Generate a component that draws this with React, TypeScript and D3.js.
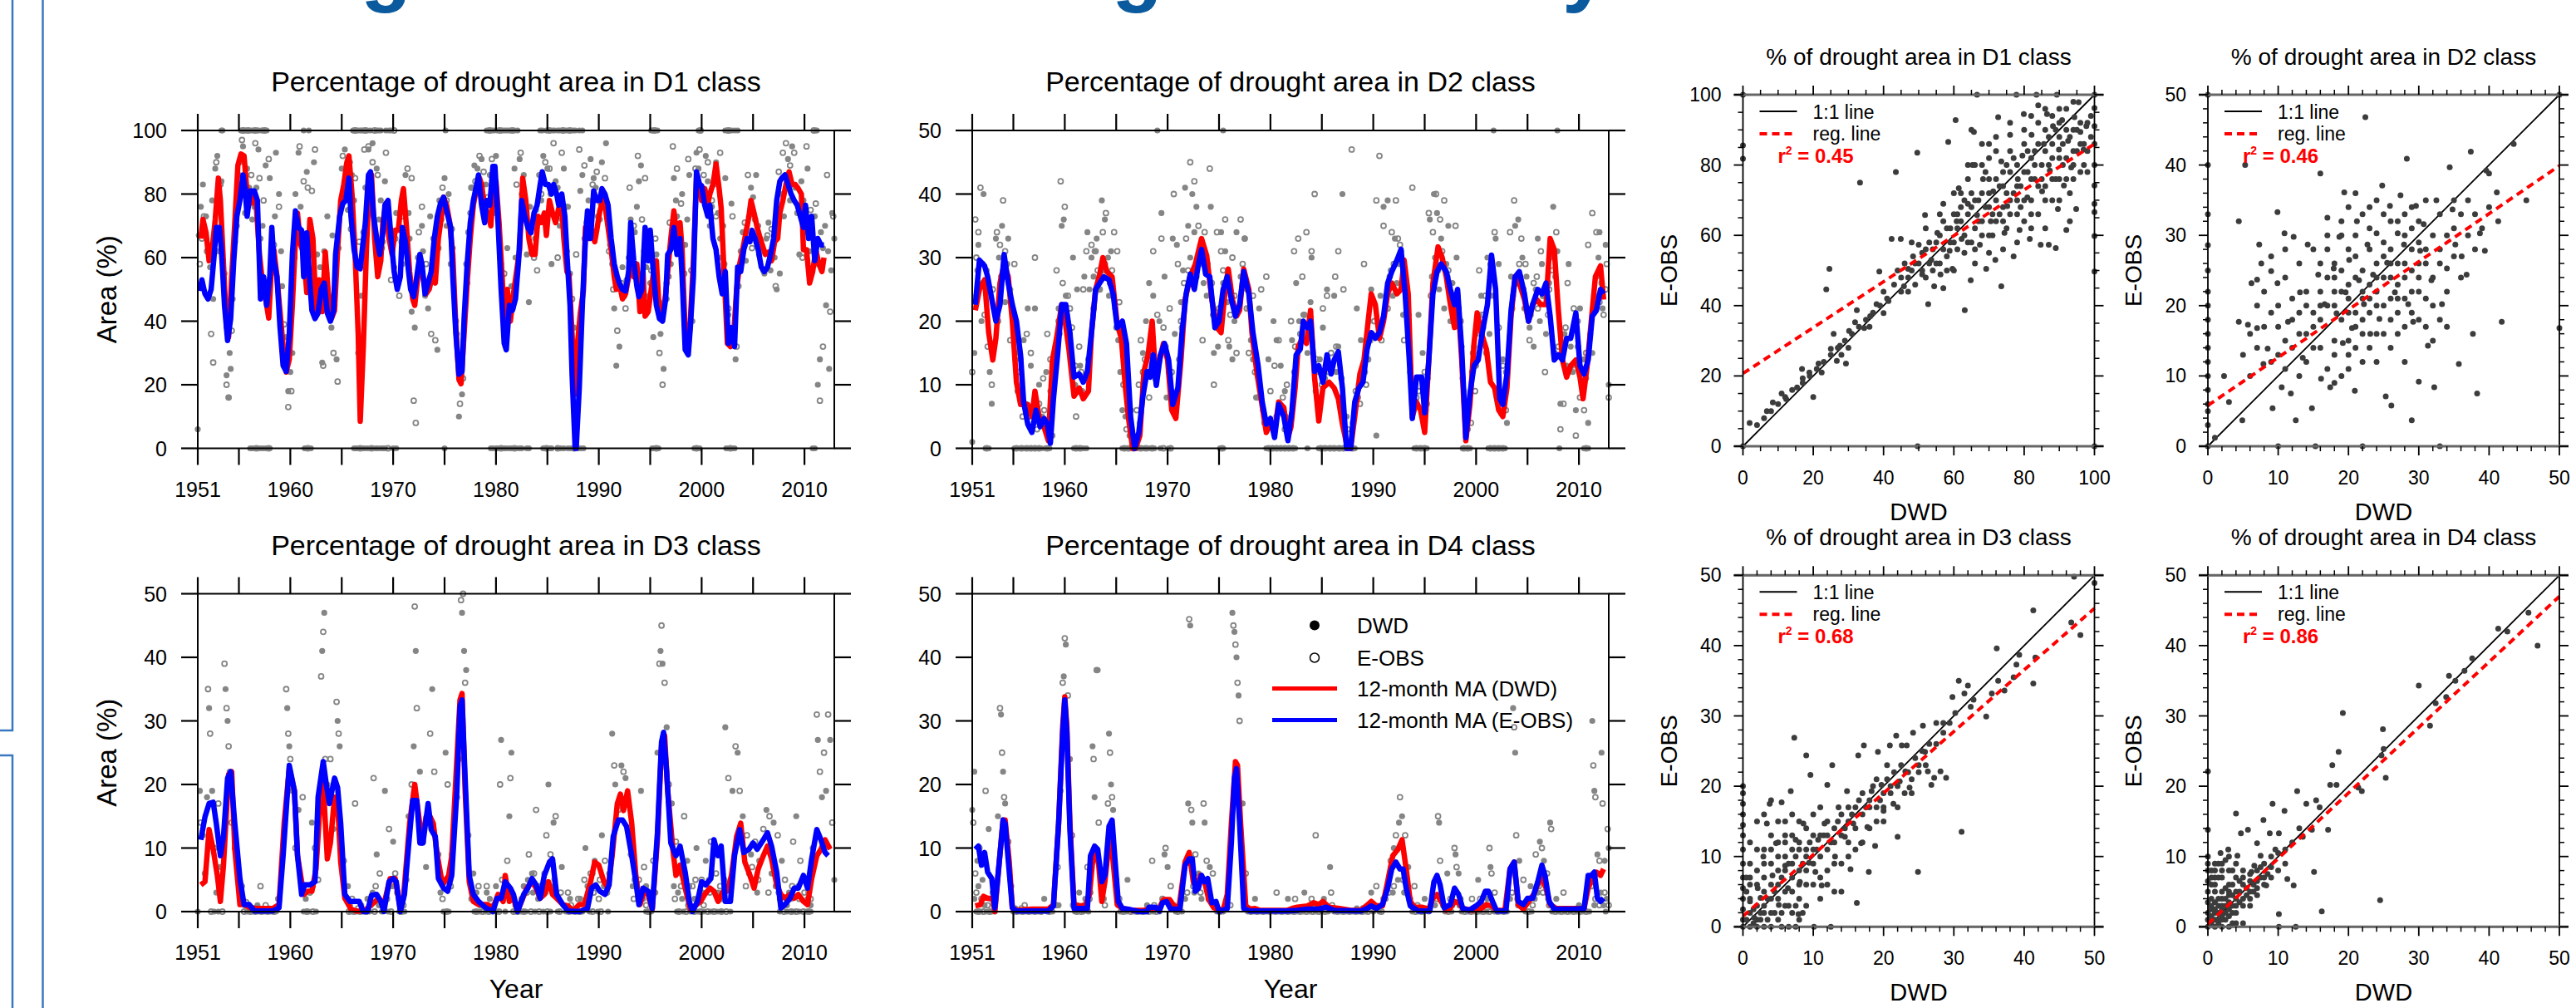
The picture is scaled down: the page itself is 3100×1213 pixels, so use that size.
import React from 'react';
import * as d3 from 'd3';

const FONT = '"Liberation Sans", Arial, Helvetica, sans-serif';
const GRAY = '#858585';
const DOT = '#3c3c3c';

type Pt = [number, number];

// years are stored as offsets from 1900 (51.3 -> 1951.3)
const yearTicks = [1951, 1955, 1960, 1965, 1970, 1975, 1980, 1985, 1990, 1995, 2000, 2005, 2010];
const yearLabels = [1951, 1960, 1970, 1980, 1990, 2000, 2010];
const ticks100 = [0, 20, 40, 60, 80, 100];
const ticks50 = [0, 10, 20, 30, 40, 50];

// ---------- D1 ----------
const d1MaDwd: Pt[] = [[51.3,66],[51.5,72],[51.8,68],[52.1,59],[52.4,62.5],[52.7,72],[53.0,85],[53.2,78],[53.5,58],[53.8,38],[54.0,35],[54.3,54],[54.6,71],[54.9,89],[55.2,92.6],[55.5,92],[55.8,80],[56.1,77],[56.4,79],[56.7,76],[57.0,61],[57.3,52],[57.6,47],[57.9,41],[58.2,59],[58.4,62.5],[58.7,54],[59.0,43],[59.3,32],[59.6,24],[59.9,28],[60.2,45],[60.5,66],[60.7,74],[61.0,64],[61.3,61.5],[61.6,49],[61.9,72],[62.2,66],[62.5,43],[62.8,53],[63.1,43],[63.4,61.7],[63.7,48.6],[64.0,40.8],[64.3,43.4],[64.6,62.5],[64.9,78],[65.2,83],[65.5,90],[65.7,92],[66.0,80],[66.3,61],[66.6,36],[66.8,8.5],[67.1,32],[67.4,62.5],[67.7,85],[67.9,86],[68.2,66],[68.5,54],[68.8,59],[69.0,71],[69.3,77],[69.6,66],[69.9,61],[70.2,68.6],[70.5,68.6],[70.8,78],[71.0,81.7],[71.3,69.5],[71.6,55.6],[71.9,47],[72.1,45],[72.4,54],[72.7,58],[72.9,54],[73.2,48.6],[73.5,50],[73.8,54],[74.1,52],[74.4,66],[74.7,73],[74.9,79],[75.2,76.5],[75.5,71],[75.8,61],[76.1,38],[76.4,21.6],[76.6,20.3],[76.9,36],[77.2,52],[77.5,66],[77.8,76.5],[78.1,81.7],[78.4,85],[78.6,83],[78.9,75.6],[79.2,74],[79.5,70],[79.8,85],[80.0,84],[80.3,71],[80.6,54],[80.8,40.8],[81.1,50],[81.4,40],[81.7,48.6],[82.0,55.6],[82.3,62.5],[82.6,85],[82.9,78],[83.2,66],[83.5,61],[83.8,61],[84.1,73],[84.4,71],[84.7,74],[84.9,67],[85.2,78],[85.5,74],[85.8,71],[86.1,75.6],[86.4,77],[86.6,66],[86.9,55.6],[87.1,54.7],[87.4,36],[87.7,17],[87.9,32],[88.2,42.5],[88.5,49.5],[88.7,69.5],[89.0,66],[89.3,68.6],[89.6,65],[89.8,68.6],[90.1,74.7],[90.4,78],[90.6,76.5],[90.9,69.5],[91.2,62.5],[91.5,54],[91.7,50],[92.0,52],[92.3,47],[92.6,48.6],[92.9,54],[93.1,59],[93.4,54],[93.7,58],[94.0,43],[94.3,55.6],[94.5,41.6],[94.8,43],[95.1,50],[95.4,57],[95.6,59],[95.9,41.6],[96.2,41.6],[96.5,48.6],[96.8,59],[97.0,66],[97.3,74.7],[97.6,66],[97.9,71],[98.1,62.5],[98.4,36],[98.7,31],[98.9,40],[99.2,59],[99.5,85],[99.8,83],[100.0,78],[100.3,81.7],[100.6,77],[100.8,80],[101.1,83],[101.4,89.5],[101.7,81.7],[101.9,75.6],[102.2,54],[102.5,33],[102.8,32],[103.1,34.7],[103.4,50],[103.7,58],[104.0,62.5],[104.3,67.8],[104.6,73],[104.8,78],[105.1,74],[105.4,69.5],[105.7,66],[105.9,64],[106.2,61],[106.5,61.7],[106.8,59],[107.1,65],[107.4,66],[107.6,74],[107.9,78],[108.2,83],[108.5,87],[108.8,83],[109.1,83],[109.4,81.7],[109.7,80],[109.9,62.5],[110.2,62.5],[110.5,52],[110.8,55.6],[111.1,62.5],[111.4,58],[111.7,55.6],[111.9,60]];
const d1MaEobs: Pt[] = [[51.2,49.5],[51.4,53],[51.7,48.6],[52.0,47],[52.3,50],[52.6,61],[52.8,69.5],[53.1,69.5],[53.3,62.5],[53.6,45],[53.9,33.9],[54.2,40.8],[54.5,59],[54.8,73],[55.1,78],[55.4,86],[55.6,81.7],[55.8,73],[56.1,81],[56.5,81],[56.8,78],[57.1,47],[57.4,54],[57.7,45],[58.0,54],[58.2,69.5],[58.4,59],[58.7,54],[59.0,38],[59.3,26],[59.6,24.2],[59.9,36],[60.2,61],[60.5,74.7],[60.8,69.5],[61.1,68.6],[61.3,54],[61.6,67.8],[61.9,52],[62.1,43.4],[62.4,40.8],[62.7,42.5],[63.0,50],[63.3,52],[63.6,42.5],[63.9,40],[64.2,43.4],[64.4,61],[64.8,73],[65.1,77],[65.4,78],[65.7,85],[65.9,73],[66.2,62.5],[66.5,57],[66.8,56.5],[67.0,62.5],[67.3,71],[67.6,86],[67.8,87],[68.1,73],[68.4,66],[68.7,61],[69.0,67.8],[69.2,76.5],[69.5,78],[69.8,66],[70.1,55.6],[70.4,50],[70.7,54],[70.9,69.5],[71.2,65],[71.5,55.6],[71.7,50],[72.0,47.7],[72.3,54],[72.6,61],[72.8,58],[73.1,48.6],[73.4,52],[73.7,55.6],[74.0,66],[74.3,73],[74.6,77],[74.9,79],[75.2,74.7],[75.6,69.5],[75.8,54],[76.1,36],[76.4,23.3],[76.7,24.2],[76.9,40.8],[77.2,58],[77.5,71],[77.8,78],[78.1,82.6],[78.3,86],[78.6,76.5],[78.9,71],[79.1,78],[79.4,76.5],[79.7,88.7],[79.9,88.7],[80.2,71],[80.5,50],[80.8,33],[81.0,31],[81.3,45],[81.6,43.4],[81.9,47],[82.2,59],[82.5,78],[82.8,73],[83.1,69.5],[83.4,67.8],[83.7,74],[84.0,76.5],[84.3,83],[84.5,87],[84.8,83],[85.1,83],[85.4,80],[85.6,83],[85.9,80],[86.1,76.5],[86.4,80],[86.7,73],[86.9,61],[87.2,45],[87.4,23.3],[87.7,0],[87.8,0],[88.1,19],[88.4,45],[88.7,66],[88.9,74.7],[89.2,66],[89.5,81],[89.8,78],[90.1,78],[90.3,81.7],[90.6,80],[90.9,76.5],[91.2,66],[91.5,58],[91.8,54],[92.0,52],[92.3,50],[92.6,49.5],[92.9,55.6],[93.1,71],[93.4,59],[93.7,51],[93.9,47.7],[94.2,50],[94.5,69.5],[94.8,59],[95.0,68.6],[95.3,55.6],[95.6,45],[95.9,40.8],[96.2,40],[96.5,47],[96.7,61],[97.0,62.5],[97.3,69.5],[97.6,61],[97.9,66],[98.1,54],[98.4,31],[98.7,29.4],[98.9,38],[99.2,54],[99.5,87],[99.8,83],[100.0,82.6],[100.3,76.5],[100.6,73],[100.8,76.5],[101.1,66],[101.4,62.5],[101.7,54],[102.0,48.6],[102.3,55.6],[102.6,33],[102.9,38],[103.2,32],[103.5,57],[103.8,55.6],[104.1,62.5],[104.4,66],[104.7,65],[104.9,68.6],[105.2,66],[105.5,62.5],[105.8,57],[106.1,55.6],[106.4,57],[106.7,61],[107.0,66],[107.3,78],[107.6,84],[107.8,85],[108.1,86],[108.4,83],[108.7,80],[109.0,78],[109.3,76.5],[109.6,73],[109.9,69.5],[110.1,76.5],[110.4,66],[110.7,73],[111.0,59],[111.3,66],[111.6,64],[111.9,64]];
const d1Dwd: Pt[] = [[53.4,100],[55.2,100],[55.6,100],[56,100],[56.4,100],[56.8,100],[57.2,100],[57.7,100],[61.3,100],[61.8,100],[66.1,100],[66.5,100],[67,100],[67.8,100],[68.6,100],[69.3,100],[69.8,100],[75.1,100],[79.1,100],[79.6,100],[80.1,100],[80.6,100],[81.2,100],[82.1,100],[84.3,100],[84.9,100],[85.5,100],[86.2,100],[86.8,100],[87.5,100],[88.4,100],[95.2,100],[95.7,100],[99.7,100],[102.3,100],[102.9,100],[103.5,100],[111.1,100],
  [53.3,100],[55.3,100],[55.5,100],[55.7,100],[56.2,100],[56.5,100],[56.9,100],[57.3,100],[57.5,100],[66.2,100],[66.4,100],[66.7,100],[66.9,100],[67.2,100],[67.5,100],[68.4,100],[68.8,100],[69.6,100],[79.3,100],[79.8,100],[80.3,100],[80.8,100],[81.0,100],[81.4,100],[81.8,100],[84.5,100],[85.0,100],[85.7,100],[86.0,100],[86.6,100],[87.0,100],[87.7,100],[88.1,100],[95.1,100],[95.5,100],[99.8,100],[102.5,100],[102.7,100],[103.2,100],[111.2,100],
  [56.1,0],[57.3,0],[57.6,0],[58,0],[61.4,0],[62,0],[66.4,0],[67,0],[67.5,0],[68.3,0],[69,0],[70.3,0],[75,0],[79.5,0],[80.2,0],[80.8,0],[81.5,0],[82.3,0],[83.2,0],[84.6,0],[85.4,0],[86.3,0],[87.3,0],[87.9,0],[88.5,0],[95.3,0],[95.8,0],[99.3,0],[99.8,0],[102.4,0],[103,0],[110.8,0],
  [56.3,0],[56.6,0],[57.0,0],[57.8,0],[61.6,0],[66.2,0],[66.6,0],[67.2,0],[67.8,0],[68.0,0],[68.5,0],[68.8,0],[69.2,0],[70.0,0],[79.7,0],[80.0,0],[80.4,0],[81.0,0],[81.3,0],[82.0,0],[82.5,0],[83.0,0],[84.8,0],[85.2,0],[86.1,0],[86.6,0],[87.0,0],[87.4,0],[88.0,0],[88.2,0],[95.2,0],[95.5,0],[99.4,0],[99.6,0],[102.6,0],[102.9,0],[103.2,0],[111.0,0],
  [51.0,6],[51.1,67],[51.3,76],[51.5,83],[51.8,73],[52.2,57],[52.5,47],[52.7,88],[52.9,92],[53.1,75],[53.3,84],[53.6,55],[53.8,23],[54.0,16],[54.1,30],[54.2,25],[54.4,47],[54.8,70],[55.1,90],[55.4,95],[55.6,74],[56.0,82],[56.3,72],[56.7,82],[56.9,94],[57.3,70],[57.6,89],[58.0,85],[58.3,57],[58.6,93],[58.9,80],[59.2,51],[59.6,35],[59.8,18],[60.0,24],[60.2,30],[60.5,80],[60.8,93],[61.1,67],[61.6,87],[61.9,56],[62.3,90],[62.6,61],[62.9,57],[63.1,27],[63.3,62],[63.6,73],[64.1,67],[64.3,45],[64.5,28],[64.7,63],[65.0,88],[65.3,94],[65.6,75],[66.0,86],[66.6,30],[66.9,48],[67.3,82],[67.6,94],[68.0,96],[68.4,88],[68.8,78],[69.0,65],[69.4,76],[69.7,69],[70.1,57],[70.5,52],[70.8,65],[71.2,86],[71.5,74],[71.8,43],[72.1,38],[72.4,60],[72.8,70],[73.1,48],[73.6,73],[74.0,57],[74.3,31],[74.7,72],[75.0,85],[75.4,80],[75.8,63],[76.2,36],[76.4,10],[76.7,17],[77.1,58],[77.5,74],[77.9,89],[78.2,88],[78.6,91],[79.0,83],[79.3,73],[79.8,74],[80.3,67],[80.7,47],[81.1,63],[81.5,51],[81.8,88],[82.3,91],[82.5,80],[83.0,61],[83.2,46],[83.5,71],[83.9,75],[84.2,86],[84.6,92],[85.0,88],[85.4,58],[85.8,84],[86.2,70],[86.6,88],[87.0,76],[87.2,55],[87.6,38],[88.2,81],[88.4,86],[88.8,71],[89.2,91],[89.5,85],[89.9,73],[90.3,90],[90.7,96],[91.1,64],[91.5,44],[91.7,26],[92.0,32],[92.3,57],[92.7,53],[93.1,72],[93.5,68],[93.9,84],[94.1,89],[94.6,57],[94.9,48],[95.3,35],[95.6,61],[96.0,36],[96.3,25],[96.6,47],[97.0,58],[97.3,85],[97.6,73],[98.1,80],[98.4,64],[98.8,86],[99.1,40],[99.5,93],[99.9,81],[100.4,92],[100.8,70],[101.2,83],[101.6,74],[101.9,60],[102.3,85],[102.6,42],[102.9,77],[103.3,28],[103.6,51],[104.0,68],[104.3,59],[104.6,73],[105.0,79],[105.3,86],[105.7,66],[106.1,55],[106.5,71],[106.8,62],[107.3,50],[107.6,55],[108.0,73],[108.4,91],[108.8,95],[109.1,82],[109.5,61],[109.9,78],[110.3,88],[110.7,56],[111.0,73],[111.3,20],[111.5,28],[111.8,63],[112.1,45],[112.4,25],[112.7,74],[112.9,66],
  [51.6,70],[52.0,64],[52.4,78],[53.0,62],[55.0,86],[55.8,88],[56.5,76],[57.1,66],[57.9,52],[58.5,73],[59.1,62],[60.6,70],[61.0,76],[61.4,58],[62.0,68],[62.7,46],[63.4,54],[63.8,48],[64.0,38],[65.1,80],[65.8,90],[66.2,78],[67.1,68],[67.9,80],[68.6,72],[69.2,84],[69.9,62],[70.3,74],[70.9,58],[71.6,66],[72.3,52],[72.9,62],[73.4,44],[73.9,66],[74.5,78],[75.2,70],[75.6,58],[77.3,68],[77.7,82],[78.4,80],[78.9,76],[79.4,86],[80.0,92],[80.5,58],[81.3,42],[81.9,60],[82.7,86],[83.3,76],[83.8,66],[84.4,78],[84.9,70],[85.3,80],[86.0,82],[86.4,72],[86.9,62],[88.6,66],[89.0,78],[89.7,82],[90.1,72],[90.5,80],[91.3,58],[92.5,48],[92.9,60],[93.3,62],[93.7,76],[94.4,62],[95.0,52],[95.9,46],[96.8,54],[97.5,78],[97.9,68],[98.6,72],[99.7,88],[100.2,80],[100.6,84],[101.0,76],[101.4,90],[101.8,66],[102.1,70],[103.8,62],[104.2,64],[104.8,82],[105.5,70],[105.9,62],[106.3,66],[106.7,56],[107.1,60],[107.8,80],[108.2,86],[108.6,78],[109.3,74],[109.7,84],[110.1,68],[110.5,62],[111.2,58],[111.6,68],[112.0,70],[112.3,62],[112.6,56]];
const d1Eobs: Pt[] = [[55.4,100],[55.9,100],[56.6,100],[57.5,100],[66.3,100],[67.3,100],[68.2,100],[70.1,100],[79.4,100],[80.4,100],[81.6,100],[85.2,100],[86.5,100],[87.2,100],[95.4,100],[99.9,100],[102.6,100],[110.9,100],
  [56.7,0],[57.9,0],[61.7,0],[66.8,0],[67.9,0],[69.5,0],[80.5,0],[81.8,0],[84.9,0],[86,0],[87.6,0],[95.6,0],[99.5,0],[102.8,0],
  [51.2,58],[51.4,66],[51.6,73],[51.9,62],[52.3,36],[52.5,27],[52.8,90],[53.2,83],[53.5,54],[53.8,20],[54.0,16],[54.3,37],[54.6,65],[55.0,81],[55.3,97],[55.8,77],[56.2,86],[56.6,96],[57.0,85],[57.4,78],[57.9,91],[58.4,64],[58.9,76],[59.4,39],[59.8,13],[60.1,18],[60.4,60],[60.9,95],[61.3,84],[61.7,82],[62.1,81],[62.4,94],[62.8,50],[63.2,26],[63.5,55],[63.9,43],[64.2,30],[64.6,21],[65.1,92],[65.5,89],[65.9,69],[66.3,85],[66.7,65],[67.2,94],[67.6,95],[68.0,90],[68.5,86],[68.9,63],[69.3,93],[69.8,53],[70.2,66],[70.6,48],[71.0,73],[71.4,88],[71.8,85],[72.0,15],[72.2,8],[72.5,68],[72.8,76],[73.2,58],[73.7,36],[74.1,34],[74.4,63],[74.8,82],[75.2,78],[75.7,69],[76.1,40],[76.5,14],[76.8,22],[77.2,52],[77.6,82],[78.0,84],[78.4,92],[78.8,87],[79.2,79],[79.6,91],[80.0,78],[80.4,60],[80.8,55],[81.2,46],[81.6,44],[82.0,83],[82.4,93],[82.8,78],[83.4,70],[83.7,60],[84.0,56],[84.4,80],[84.8,90],[85.2,88],[85.6,96],[86.0,60],[86.4,93],[86.8,76],[87.4,47],[87.8,61],[88.1,94],[88.6,89],[89.0,72],[89.4,83],[89.8,87],[90.2,77],[90.6,85],[91.0,62],[91.4,50],[91.8,37],[92.2,52],[92.6,44],[93.0,82],[93.4,70],[93.8,92],[94.2,72],[94.5,85],[94.8,64],[95.1,56],[95.5,66],[95.9,30],[96.2,20],[96.6,52],[96.9,71],[97.2,95],[97.6,88],[98.0,77],[98.3,55],[98.7,91],[99.0,56],[99.4,88],[99.8,94],[100.2,86],[100.6,90],[101.0,78],[101.4,73],[101.8,93],[102.2,58],[102.6,44],[103.0,73],[103.4,32],[103.8,58],[104.2,71],[104.5,86],[104.9,63],[105.2,72],[105.6,61],[106.0,56],[106.4,67],[106.8,69],[107.2,51],[107.5,87],[107.9,93],[108.2,96],[108.6,89],[109.0,93],[109.4,76],[109.8,60],[110.2,95],[110.6,75],[111.1,77],[111.5,15],[111.8,32],[112.2,86],[112.5,43],[112.8,73]];

// ---------- D2 ----------
const d2MaDwd: Pt[] = [[51.3,21.7],[51.7,25],[52.2,26.5],[52.6,18.2],[53.0,13.9],[53.3,17.3],[53.7,26],[54.1,29],[54.5,27],[54.9,20],[55.3,10.4],[55.7,6.9],[56.0,6.9],[56.4,6.9],[56.8,5],[57.1,9],[57.5,5],[57.9,3.8],[58.4,1.2],[58.8,13.9],[59.2,17.3],[59.7,22.6],[60.0,20.4],[60.4,15.6],[60.9,8.2],[61.4,9.5],[61.8,7.8],[62.3,9],[62.6,18.2],[63.0,25],[63.4,27.4],[63.7,30],[64.1,27.8],[64.6,27],[65.1,19.5],[65.5,17.3],[65.9,9.5],[66.2,4.7],[66.6,0],[66.9,0],[67.3,2],[67.7,12.1],[68.1,14.7],[68.5,20],[68.8,12.1],[69.1,13],[69.6,16.5],[70.0,13.9],[70.4,6],[70.8,4.7],[71.3,13.9],[71.7,23.4],[72.2,27],[72.7,29],[73.3,33],[73.8,30.3],[74.3,23.4],[74.8,19],[75.2,18.2],[75.6,25],[75.9,28.2],[76.3,23.4],[76.7,20.8],[77.0,21.7],[77.4,28.2],[77.9,25],[78.2,18.2],[78.7,11.7],[79.3,5.6],[79.6,2.5],[80.0,3.8],[80.4,2.5],[80.8,7.3],[81.3,6.4],[81.7,1.7],[82.0,3.4],[82.4,9.5],[82.7,16],[83.1,17.3],[83.5,16.5],[83.9,21.7],[84.3,11],[84.7,4.3],[85.1,9.5],[85.7,10.4],[86.2,9.5],[86.6,7.8],[87.0,3.8],[87.5,0],[87.8,0],[88.2,5],[88.7,11.7],[89.1,13.9],[89.5,20],[89.8,24.3],[90.2,22.6],[90.6,17.3],[91.0,20],[91.4,24.3],[91.8,26],[92.3,24.3],[92.7,25],[93.0,29.6],[93.4,24.3],[93.8,5],[94.2,7.3],[94.6,6],[95.0,2.5],[95.4,13.9],[95.8,26],[96.3,31.7],[96.7,30],[97.1,27],[97.5,22.6],[97.9,19],[98.2,24.3],[98.6,13.9],[99.0,1.2],[99.4,6.9],[99.8,16.5],[100.1,21.3],[100.5,18.2],[101.0,15.6],[101.4,10.4],[101.8,9.5],[102.2,6],[102.6,5],[103.0,9.5],[103.4,20.8],[103.8,27],[104.2,26],[104.7,23.4],[105.1,20],[105.5,22.6],[105.9,23.4],[106.3,22.6],[106.8,22.6],[107.2,33],[107.6,31.3],[108.0,21.7],[108.4,13.9],[108.8,11.2],[109.2,13],[109.7,13.9],[110.1,11.2],[110.4,7.8],[110.8,13],[111.2,20],[111.6,27],[112.1,28.7],[112.4,23.4]];
const d2MaEobs: Pt[] = [[51.3,22.6],[51.7,29.6],[52.2,28.7],[52.5,27],[53.0,22.6],[53.3,20],[53.7,22.6],[54.1,30.5],[54.5,26],[54.9,22.6],[55.3,20],[55.7,14.7],[56.0,7.3],[56.4,3.8],[56.8,2.5],[57.2,6],[57.6,3.4],[58.0,4.7],[58.3,3.8],[58.6,0.8],[58.9,7.8],[59.3,14.7],[59.7,22.6],[60.1,22.6],[60.5,18.2],[60.9,11.2],[61.4,11.7],[61.8,10.4],[62.2,12.1],[62.6,18.2],[63.0,25],[63.4,26],[63.8,27],[64.3,26.5],[64.7,24.3],[65.1,19],[65.6,20],[66.0,16.5],[66.4,5],[66.8,0],[67.2,2.5],[67.6,8.2],[68.0,12.1],[68.3,11.2],[68.6,14.7],[68.9,9.9],[69.3,14.7],[69.7,16.5],[70.1,13.9],[70.5,6.9],[71.0,9.5],[71.4,18.2],[71.8,24.3],[72.2,27.4],[72.6,25],[73.0,29],[73.3,31.3],[73.7,27.4],[74.1,27],[74.6,19],[75.0,20],[75.4,25],[75.8,27],[76.2,23.4],[76.6,20.8],[77.0,22.6],[77.4,27.8],[77.9,24.3],[78.3,18.2],[78.8,13],[79.2,7.3],[79.6,3.8],[80.0,4.7],[80.4,1.7],[80.8,6.9],[81.3,5],[81.7,1.2],[82.1,6],[82.5,14.7],[82.9,15.6],[83.2,20],[83.6,19],[83.9,20],[84.3,12.1],[84.7,13],[85.1,10.4],[85.5,14.7],[85.9,11.7],[86.2,13.9],[86.6,15.2],[87.0,9.5],[87.4,0],[87.8,0],[88.2,7.3],[88.6,9.5],[89.0,10.4],[89.4,15.6],[89.8,18.2],[90.2,17.3],[90.6,18.2],[91.0,20.8],[91.4,26],[91.8,27.8],[92.3,29.6],[92.7,31.3],[93.1,24.3],[93.5,13.9],[93.8,4.7],[94.2,11.2],[94.7,11.2],[95.0,5.6],[95.4,13.9],[95.8,24.3],[96.2,27.8],[96.6,29],[97.1,27.8],[97.5,25],[97.9,22.6],[98.2,25],[98.6,15.6],[99.0,1.7],[99.4,8.6],[99.8,13],[100.2,13.9],[100.6,18.2],[101.1,22.6],[101.5,30.4],[101.9,25],[102.3,7.8],[102.6,6.9],[103.0,11.7],[103.4,21.7],[103.8,27],[104.2,27.8],[104.7,24.3],[105.1,20],[105.5,22.6],[106.0,25],[106.4,24.3],[106.8,26],[107.2,20.8],[107.6,13.9],[108.0,14.7],[108.4,13.9],[108.8,17.3],[109.2,17.3],[109.7,21.3],[110.1,13],[110.5,11.7],[110.9,13.9],[111.3,20.8],[111.7,21.7],[112.1,25],[112.4,24.3]];
const d2Dwd: Pt[] = [[52.3,0],[52.6,0],[55.1,0],[55.6,0],[56.1,0],[56.5,0],[56.9,0],[57.3,0],[57.7,0],[58.1,0],[58.5,0],[60.9,0],[61.3,0],[61.8,0],[62.1,0],[65.6,0],[66.0,0],[66.5,0],[66.9,0],[67.2,0],[67.7,0],[68.2,0],[68.7,0],[69.3,0],[70.1,0],[75.1,0],[75.4,0],[79.6,0],[80.0,0],[80.4,0],[80.8,0],[81.2,0],[81.6,0],[82.0,0],[82.4,0],[83.6,0],[84.7,0],[85.1,0],[85.6,0],[86.0,0],[86.5,0],[86.9,0],[87.3,0],[87.8,0],[88.2,0],[94.0,0],[94.4,0],[94.8,0],[95.2,0],[98.7,0],[99.0,0],[99.4,0],[101.2,0],[101.6,0],[102.0,0],[102.4,0],[102.8,0],[108.1,0],[110.5,0],[110.9,0],[69.0,50],[75.4,50],[101.7,50],[107.9,50],
  [51.0,1],[51.2,15],[51.4,24],[51.6,32],[51.9,20],[52.1,40],[52.4,28],[52.7,12],[52.9,7],[53.3,33],[53.6,30],[53.9,35],[54.2,23],[54.4,29],[54.7,25],[55.0,20],[55.4,9],[55.7,14],[56.0,17],[56.4,22],[56.7,13],[57.1,22],[57.5,10],[57.8,5],[58.2,12],[58.6,9],[59.1,16],[59.4,22],[59.7,35],[59.9,36],[60.2,21],[60.5,18],[60.8,30],[61.2,25],[61.5,13],[61.9,27],[62.2,34],[62.6,30],[62.9,31],[63.3,25],[63.6,39],[63.9,36],[64.2,30],[64.5,31],[64.9,22],[65.2,17],[65.6,6],[65.9,5],[66.3,2],[67.3,4],[67.6,15],[67.9,20],[68.2,26],[68.6,24],[69.0,13],[69.4,37],[69.7,27],[70.1,12],[70.5,33],[70.9,32],[71.3,23],[71.7,41],[72.0,35],[72.4,40],[72.8,38],[73.1,29],[73.5,26],[73.8,24],[74.2,38],[74.5,15],[74.9,16],[75.2,34],[75.6,31],[76.0,16],[76.3,14],[76.7,34],[77.1,27],[77.5,33],[77.9,22],[78.3,14],[78.6,8],[78.9,22],[79.4,4],[79.8,14],[80.3,20],[80.6,17],[81.0,13],[81.4,9],[81.8,3],[82.1,17],[82.5,26],[82.8,20],[83.2,21],[83.6,15],[84.0,30],[84.4,9],[84.8,14],[85.1,19],[85.5,25],[85.8,13],[86.2,24],[86.6,16],[87.0,40],[87.4,5],[88.0,4],[88.4,22],[88.8,17],[89.2,12],[89.6,20],[89.9,18],[90.3,2],[90.7,24],[91.0,38],[91.4,39],[91.7,28],[92.1,33],[92.5,29],[92.9,21],[93.2,24],[93.6,13],[94.0,9],[94.4,21],[94.8,15],[95.1,6],[95.5,36],[95.9,40],[96.2,37],[96.6,33],[96.9,22],[97.3,35],[97.7,26],[98.1,30],[98.4,19],[98.8,9],[99.2,3],[99.6,12],[100.0,13],[100.3,21],[100.7,19],[101.1,30],[101.5,24],[101.9,33],[102.2,29],[102.6,14],[103.0,4],[103.4,27],[103.8,35],[104.1,36],[104.5,30],[104.9,27],[105.2,19],[105.6,16],[106.0,33],[106.4,29],[106.8,18],[107.1,26],[107.5,38],[107.9,31],[108.2,7],[108.6,18],[109.0,29],[109.4,12],[109.7,6],[110.1,22],[110.5,14],[110.9,4],[111.3,15],[111.7,27],[112.0,34],[112.3,22],[112.6,32],[112.9,10],
  [51.5,28],[52.0,26],[53.1,22],[53.8,27],[54.5,33],[55.2,14],[56.2,7],[57.0,4],[58.8,2],[59.5,18],[60.1,24],[60.6,14],[61.0,10],[61.7,9],[62.4,25],[62.8,27],[63.1,33],[63.8,28],[64.3,24],[65.0,19],[65.4,12],[67.8,11],[68.4,18],[69.2,20],[69.9,8],[70.7,18],[71.1,14],[71.5,28],[72.2,30],[72.6,34],[73.3,32],[73.9,29],[74.4,21],[74.7,19],[75.4,26],[75.8,23],[76.5,20],[77.3,27],[77.7,25],[78.1,17],[78.8,12],[80.9,6],[81.5,5],[82.3,12],[83.0,18],[83.4,17],[83.9,23],[84.6,12],[85.3,11],[86.4,12],[86.8,8],[88.6,10],[89.4,14],[89.8,25],[90.5,18],[91.2,22],[91.9,24],[92.3,26],[92.7,31],[93.4,21],[93.9,6],[95.3,11],[95.7,27],[96.0,30],[96.4,25],[97.1,29],[97.5,20],[97.9,23],[98.6,16],[99.8,16],[100.5,24],[101.3,18],[102.0,8],[102.9,12],[103.6,24],[104.3,27],[104.7,22],[105.4,22],[105.8,25],[106.2,20],[106.6,24],[107.3,30],[107.7,27],[108.4,16],[108.8,13],[109.2,16],[109.9,20],[110.7,11],[111.1,18],[111.5,22],[111.9,30]];
const d2Eobs: Pt[] = [[52.4,0],[55.3,0],[55.8,0],[56.3,0],[56.7,0],[57.1,0],[57.5,0],[58.3,0],[61.1,0],[61.5,0],[65.8,0],[66.2,0],[66.7,0],[67.4,0],[67.9,0],[68.5,0],[69.6,0],[70.3,0],[75.3,0],[79.8,0],[80.2,0],[80.6,0],[81.0,0],[81.4,0],[81.8,0],[82.2,0],[84.9,0],[85.3,0],[85.8,0],[86.2,0],[86.7,0],[87.1,0],[88.0,0],[94.2,0],[94.6,0],[95.0,0],[98.8,0],[99.2,0],[101.4,0],[101.8,0],[102.2,0],[102.6,0],[110.7,0],
  [51.0,12],[51.3,36],[51.6,34],[51.8,41],[52.2,21],[52.5,16],[52.9,10],[53.4,34],[53.7,32],[54.0,39],[54.3,27],[54.7,17],[55.1,29],[55.5,12],[55.9,5],[56.3,18],[56.7,15],[57.1,30],[57.5,7],[57.9,11],[58.3,18],[58.8,12],[59.2,28],[59.6,42],[60.0,38],[60.3,24],[60.7,19],[61.1,5],[61.4,16],[61.8,25],[62.1,31],[62.6,32],[63.0,31],[63.4,25],[63.7,34],[64.0,37],[64.4,26],[64.8,34],[65.1,31],[65.4,19],[65.7,10],[66.0,3],[67.0,6],[67.4,17],[67.8,14],[68.2,8],[68.6,31],[69.0,21],[69.4,33],[69.8,16],[70.2,22],[70.6,40],[71.0,29],[71.4,19],[71.8,33],[72.2,45],[72.6,42],[73.0,35],[73.4,17],[73.7,30],[74.1,44],[74.5,10],[74.8,34],[75.2,31],[75.6,36],[75.9,17],[76.3,30],[76.7,15],[77.1,36],[77.5,33],[77.9,15],[78.3,24],[78.7,8],[79.1,25],[79.6,27],[80.0,9],[80.4,13],[80.8,17],[81.2,8],[81.6,10],[82.0,20],[82.3,31],[82.7,33],[83.1,27],[83.5,34],[84.0,31],[84.3,40],[84.8,8],[85.1,22],[85.5,24],[85.9,15],[86.3,27],[86.6,31],[87.1,25],[87.5,3],[87.9,47],[88.3,9],[88.7,7],[89.1,29],[89.5,14],[89.9,23],[90.3,39],[90.6,46],[91.0,35],[91.4,22],[91.8,34],[92.2,39],[92.6,32],[93.0,17],[93.4,21],[93.8,41],[94.2,8],[94.6,11],[95.0,12],[95.4,37],[95.8,34],[96.1,40],[96.5,36],[96.9,39],[97.3,28],[97.7,22],[98.0,35],[98.3,22],[98.7,11],[99.1,6],[99.5,4],[99.9,9],[100.3,28],[100.6,21],[101.0,15],[101.4,29],[101.8,34],[102.2,19],[102.6,13],[102.9,6],[103.3,34],[103.7,39],[104.0,26],[104.4,33],[104.8,29],[105.2,17],[105.6,26],[106.0,22],[106.3,31],[106.7,12],[107.1,25],[107.4,28],[107.8,34],[108.2,3],[108.5,7],[108.9,26],[109.3,13],[109.7,2],[110.1,8],[110.5,6],[110.9,32],[111.3,37],[111.7,34],[112.0,23],[112.4,21],[112.7,29],[112.9,8],
  [51.4,30],[52.0,29],[53.0,25],[53.5,20],[54.2,31],[54.9,22],[55.6,15],[56.5,5],[57.3,3],[58.0,6],[58.6,14],[59.4,20],[59.8,26],[60.5,22],[61.0,13],[61.6,12],[62.3,14],[62.8,22],[63.2,28],[63.9,29],[64.6,28],[65.3,23],[66.4,6],[67.2,10],[67.6,12],[68.4,15],[68.8,11],[69.6,19],[70.4,12],[70.9,8],[71.3,20],[71.6,26],[72.0,28],[72.8,27],[73.2,31],[73.6,34],[74.3,26],[75.0,22],[75.4,28],[76.1,21],[76.5,24],[77.3,29],[77.7,22],[78.5,12],[79.3,6],[80.6,5],[81.4,3],[82.4,16],[82.9,18],[83.3,21],[83.8,18],[84.5,14],[85.0,10],[85.7,12],[86.4,16],[86.9,11],[88.5,8],[89.3,10],[89.7,17],[90.1,20],[90.8,17],[91.6,27],[92.0,29],[92.4,33],[92.9,26],[93.6,12],[94.4,9],[95.2,7],[95.6,24],[96.3,28],[96.7,31],[97.2,27],[97.9,24],[98.5,20],[99.7,15],[100.4,18],[100.9,24],[101.6,27],[102.1,9],[102.8,9],[103.5,22],[104.2,29],[104.6,25],[105.3,21],[105.9,27],[106.5,24],[107.0,21],[107.6,15],[108.0,16],[108.7,19],[109.5,22],[109.9,16],[110.3,12],[110.7,15],[111.5,24],[112.2,26],[112.6,25]];

// ---------- D3 ----------
const d3MaDwd: Pt[] = [[51.3,4.2],[51.7,4.7],[52.1,12.9],[52.5,9.8],[52.9,5.7],[53.2,1.6],[53.5,7.3],[54.0,21.6],[54.3,22],[54.6,9.8],[55.1,1.1],[55.5,1.1],[56.1,0.6],[56.7,0.5],[57.5,0.5],[58.3,0.5],[58.9,1.1],[59.4,13.9],[59.9,22.6],[60.4,19],[60.7,8.8],[61.3,2.7],[61.7,3.2],[62.1,3.2],[62.5,6.7],[62.9,17],[63.2,20],[63.6,8.3],[63.9,10.8],[64.3,18],[64.6,17],[64.9,7.8],[65.3,2.1],[65.9,0.4],[66.4,0.1],[67.2,0.1],[67.9,1.1],[68.6,2.1],[69.1,1.1],[69.7,5.2],[70.2,5.2],[70.7,0.4],[71.0,2.1],[71.6,13.9],[72.1,20],[72.5,14.9],[72.8,10.8],[73.2,14.9],[73.6,14.9],[73.9,13.9],[74.3,8.8],[74.8,4.2],[75.4,5.7],[75.7,8.8],[76.2,24.1],[76.5,33.3],[76.7,34.3],[77.0,19],[77.4,4.7],[77.8,1.6],[78.3,1.1],[79.2,1.1],[79.7,0.5],[80.2,2.7],[80.7,1.6],[80.9,5.7],[81.3,1.6],[81.7,2.1],[82.1,0.1],[82.6,2.1],[83.0,3.7],[83.5,4.7],[83.9,3.7],[84.3,2.1],[84.7,2.7],[85.1,4.7],[85.5,2.7],[85.9,2.1],[86.5,1.1],[87.0,0.9],[87.5,0.1],[88.1,1.1],[88.6,1.1],[89.2,4.7],[89.6,7.8],[90.0,7.3],[90.5,4.7],[90.9,3.7],[91.3,8.8],[91.8,17],[92.1,18.5],[92.4,15.9],[92.8,19],[93.2,13.9],[93.6,5.7],[94.0,1.1],[94.4,3.2],[94.8,2.7],[95.2,0.4],[95.7,11.3],[96.1,26.1],[96.4,27.7],[96.7,19],[97.2,9.8],[97.5,5.7],[97.9,7.3],[98.4,3.7],[98.9,0.4],[99.5,1.1],[99.9,1.6],[100.3,2.7],[100.8,3.7],[101.2,3.2],[101.6,1.6],[102.1,3.2],[102.5,3.2],[102.9,5.7],[103.4,11.8],[103.8,13.9],[104.2,7.8],[104.7,5.7],[105.1,3.7],[105.5,6.7],[106.0,8.8],[106.4,10.3],[106.8,8.3],[107.3,4.2],[107.7,2.7],[108.1,2.1],[108.6,2.7],[109.0,2.1],[109.4,2.7],[109.9,1.6],[110.3,1.1],[110.7,5.2],[111.2,8.8],[111.6,9.8],[112.0,11.3],[112.5,9.8]];
const d3MaEobs: Pt[] = [[51.3,11.3],[51.7,14.9],[52.1,17],[52.5,17.2],[52.8,13.9],[53.2,8.8],[53.5,11.8],[53.9,21],[54.2,22],[54.6,13.9],[55.1,5.2],[55.5,1.1],[56.0,1.1],[56.5,0.1],[57.2,0.1],[58.3,0.1],[58.9,0.6],[59.3,8.8],[59.6,15.9],[59.9,23],[60.4,19],[60.7,8.8],[61.1,2.7],[61.4,4.2],[61.9,4.2],[62.4,4.7],[62.7,18],[63.2,23.6],[63.5,20],[63.8,17],[64.3,21],[64.6,19.5],[64.9,13.9],[65.3,2.7],[65.8,1.6],[66.2,1.6],[66.7,1.6],[67.1,0],[67.5,0],[67.9,2.6],[68.4,2.7],[68.8,1.6],[69.1,0],[69.6,4.7],[70.0,5.2],[70.3,4.7],[70.7,0],[71.1,2.7],[71.5,10.3],[71.9,17.5],[72.3,17.5],[72.6,10.8],[72.9,10.8],[73.4,17],[73.7,12.9],[74.1,11.8],[74.4,5.2],[74.9,3.7],[75.3,3.2],[75.7,5.7],[76.2,19],[76.5,32.3],[76.7,33.3],[77.0,21],[77.4,5.7],[77.8,2.7],[78.3,1.6],[79.0,0.6],[79.7,0],[80.1,2.1],[80.5,2.1],[80.9,4.7],[81.4,3.7],[81.7,2.7],[82.1,0],[82.7,2.7],[83.1,3.7],[83.5,5.2],[83.9,4.2],[84.3,2.1],[84.7,5.7],[85.2,7.8],[85.5,8.3],[85.9,2.7],[86.5,1.1],[87.0,0.1],[88.1,0],[88.9,0.5],[89.3,3.7],[89.7,4.2],[90.1,3.2],[90.6,2.7],[91.0,4.2],[91.4,11.8],[91.9,14.4],[92.3,14.4],[92.7,13.4],[93.2,8.8],[93.6,4.7],[93.9,1.1],[94.3,3.7],[94.8,3.2],[95.2,0.5],[95.7,12.4],[96.1,26.7],[96.3,28.2],[96.6,22],[97.0,10.8],[97.5,8.8],[97.9,10.3],[98.4,6.2],[98.8,1.6],[99.1,0],[99.6,1.6],[100.0,4.7],[100.4,4.2],[100.9,5.2],[101.2,11.3],[101.6,8.8],[101.9,10.3],[102.3,1.6],[102.8,1.6],[103.2,8.8],[103.7,12.9],[104.1,9.3],[104.6,9.8],[105.0,10.8],[105.4,9.8],[106.0,11.3],[106.4,12.4],[106.8,10.3],[107.3,6.2],[107.7,0.6],[108.1,1.1],[108.6,2.1],[109.0,3.7],[109.4,3.7],[109.9,5.7],[110.3,3.7],[110.7,8.3],[111.2,12.9],[111.6,11.3],[112.0,9.3],[112.3,8.8]];
const d3Dwd: Pt[] = [[51.0,0],[52.6,0],[53.0,0],[55.8,0],[56.3,0],[56.9,0],[57.5,0],[58.1,0],[58.6,0],[61.3,0],[61.8,0],[62.5,0],[65.9,0],[66.5,0],[67.1,0],[67.7,0],[68.9,0],[69.5,0],[70.6,0],[71.1,0],[74.9,0],[75.4,0],[77.9,0],[78.4,0],[79.0,0],[79.6,0],[80.1,0],[80.9,0],[81.9,0],[82.4,0],[82.9,0],[83.8,0],[84.6,0],[85.3,0],[86.0,0],[86.8,0],[87.4,0],[88.0,0],[88.4,0],[89.1,0],[89.9,0],[90.9,0],[94.6,0],[95.1,0],[97.6,0],[98.2,0],[98.9,0],[99.6,0],[100.2,0],[100.9,0],[101.5,0],[102.0,0],[102.8,0],[107.6,0],[108.3,0],[108.9,0],[109.5,0],[110.2,0],[110.6,0],
  [51.2,19],[51.5,12],[51.9,18],[52.1,32],[52.4,19],[52.8,3],[53.2,7],[53.7,35],[53.9,30],[54.1,22],[54.6,10],[55.3,4],[58.8,2],[59.7,32],[59.9,26],[60.2,19],[60.8,16],[62.1,14],[62.9,19],[63.1,41],[63.3,47],[63.6,20],[64.2,13],[64.6,30],[64.8,26],[65.6,4],[68.4,9],[69.2,19],[70.0,11],[71.5,15],[72.0,26],[72.2,41],[72.6,22],[73.2,7],[73.8,35],[74.4,9],[75.1,25],[75.7,9],[76.4,24],[76.7,47],[76.9,41],[77.1,38],[77.8,6],[79.1,3],[80.5,27],[81.3,15],[81.5,25],[83.5,6],[84.4,4],[85.1,20],[85.6,14],[86.4,7],[88.7,10],[89.6,8],[90.3,12],[91.3,28],[91.6,20],[92.2,23],[92.6,21],[93.1,9],[94.1,19],[94.9,2],[95.7,25],[96.0,41],[96.2,39],[96.6,29],[97.1,17],[97.9,6],[98.6,8],[99.5,10],[100.4,8],[101.3,9],[102.3,29],[103.0,19],[103.5,25],[104.0,15],[104.8,9],[105.6,8],[106.3,16],[107.0,14],[107.8,8],[108.5,3],[109.2,15],[110.0,5],[110.8,10],[111.3,27],[111.7,18],[112.1,19],[112.5,27],[112.9,5],
  [55.6,1],[56.8,1],[57.9,0.5],[61.5,2],[62.2,4],[65.8,1],[66.9,1],[67.5,2],[68.0,3],[68.6,1],[69.9,4],[70.8,2],[71.3,5],[74.6,3],[75.5,6],[77.6,2],[78.1,3],[78.8,1],[79.4,2],[80.0,4],[80.7,3],[81.6,2],[82.2,1],[82.7,4],[83.1,5],[83.6,3],[84.1,2],[84.7,6],[85.5,4],[86.1,2],[86.6,1],[87.2,2],[88.2,2],[88.9,4],[89.4,6],[90.5,4],[91.0,6],[93.3,4],[93.8,3],[94.3,2],[94.6,4],[95.5,3],[97.3,4],[97.7,3],[98.1,2],[98.8,4],[99.3,2],[100.1,3],[100.7,5],[101.0,6],[101.6,3],[102.1,2],[102.6,4],[104.6,6],[105.0,5],[105.4,3],[106.8,6],[107.2,4],[107.6,2],[108.3,1],[108.7,2],[109.4,4],[110.3,2],[110.6,1]];
const d3Eobs: Pt[] = [[52.3,0],[53.4,0],[55.5,0],[56.1,0],[56.6,0],[57.2,0],[57.8,0],[58.4,0],[61.6,0],[62.2,0],[65.7,0],[66.2,0],[66.8,0],[67.4,0],[68.2,0],[69.8,0],[70.8,0],[75.2,0],[78.1,0],[78.7,0],[79.3,0],[80.3,0],[81.7,0],[82.1,0],[82.7,0],[83.4,0],[84.2,0],[85.0,0],[86.2,0],[87.1,0],[87.7,0],[88.2,0],[89.4,0],[90.2,0],[94.8,0],[97.8,0],[98.5,0],[99.3,0],[99.9,0],[100.6,0],[101.2,0],[101.9,0],[102.4,0],[108.0,0],[108.7,0],[109.2,0],[109.9,0],[110.4,0],
  [51.3,14],[51.7,6],[52.0,35],[52.2,28],[52.6,10],[53.0,17],[53.6,39],[53.8,32],[54.0,26],[54.3,14],[54.9,6],[57.1,4],[59.6,35],[59.8,28],[60.0,24],[60.5,10],[61.2,18],[62.4,10],[63.0,37],[63.2,44],[63.4,24],[63.9,24],[64.5,33],[64.7,28],[65.2,8],[66.3,17],[68.1,21],[68.7,6],[69.6,13],[70.4,3],[71.8,20],[72.1,48],[72.3,32],[72.9,11],[73.6,28],[74.0,22],[74.7,5],[75.3,20],[76.2,18],[76.6,49],[76.8,50],[77.0,36],[77.3,12],[78.3,4],[80.4,20],[81.1,8],[81.4,21],[83.2,9],[83.9,16],[84.9,12],[85.3,9],[85.8,15],[87.0,3],[89.2,6],[90.0,2],[90.6,8],[91.5,23],[91.9,16],[92.4,22],[92.8,18],[93.5,5],[94.4,7],[95.3,8],[95.9,39],[96.1,45],[96.4,36],[96.8,20],[97.5,11],[98.3,15],[99.1,4],[100.0,5],[100.9,11],[101.8,4],[102.6,21],[103.3,26],[103.7,19],[104.4,12],[105.2,11],[106.0,13],[106.6,15],[107.4,12],[108.1,5],[108.9,11],[109.6,8],[110.4,3],[111.2,31],[111.5,22],[111.9,25],[112.3,31],[112.7,14],
  [55.7,1.5],[56.4,0.5],[57.6,1],[61.9,3],[62.7,5],[66.0,2],[66.6,0.5],[67.8,1],[68.3,4],[69.4,2],[70.2,6],[71.0,1],[74.8,2],[75.6,4],[77.7,3],[78.5,1],[79.1,4],[79.8,1],[80.6,5],[81.2,3],[81.9,1],[82.5,2],[83.0,3],[83.7,6],[84.3,4],[84.8,3],[85.7,5],[86.3,3],[87.3,1],[88.0,2],[88.6,5],[89.5,3],[90.1,5],[90.8,3],[93.4,2],[93.9,5],[94.6,1],[95.1,2],[97.4,2],[98.0,4],[98.7,1],[99.4,5],[100.2,1],[100.8,3],[101.4,6],[101.9,2],[102.2,5],[104.3,4],[104.9,7],[105.5,5],[106.5,3],[107.0,7],[107.5,3],[108.0,1],[108.8,4],[109.5,2],[110.0,3],[110.6,2]];

// ---------- D4 ----------
const d4MaDwd: Pt[] = [[51.3,0.9],[51.8,1.1],[52.1,2.4],[52.5,2.1],[53.0,2.1],[53.2,0],[53.6,7.3],[54.0,14.4],[54.2,14.4],[54.6,7.8],[54.9,0.6],[55.3,0.2],[56.8,0.4],[58.4,0.4],[58.9,1.1],[59.4,13.9],[59.8,29.2],[60.0,33.8],[60.2,29.2],[60.5,13.9],[60.9,1.1],[61.5,0.9],[62.0,0.9],[62.4,2.7],[62.7,7.8],[63.0,9.8],[63.3,7.3],[63.6,1.6],[63.9,4.7],[64.3,10.8],[64.5,11.3],[64.8,6.2],[65.1,1.1],[65.6,0.5],[66.6,0.2],[67.7,0.2],[68.2,0.4],[68.8,0.4],[69.2,0.6],[69.6,1.9],[70.2,1.9],[70.6,0.9],[71.1,0.5],[71.7,7.8],[72.1,9.3],[72.5,4.7],[72.8,3.7],[73.2,5.7],[73.6,4.7],[74.0,1.9],[74.5,0.6],[75.4,0.2],[75.8,2.7],[76.2,13.9],[76.6,23.6],[76.8,23],[77.1,13.9],[77.6,0.9],[78.0,0.4],[78.5,0.5],[79.0,0.2],[81.6,0.2],[82.1,0.5],[82.6,0.7],[83.6,0.9],[84.2,1.4],[84.7,1.1],[85.1,1.6],[85.7,0.7],[86.7,0.5],[87.8,0.2],[88.8,0.2],[89.4,1],[89.8,1.6],[90.3,0.9],[90.9,0.9],[91.4,4.7],[91.9,8.8],[92.4,9.8],[92.8,11.3],[93.2,6.7],[93.6,1.6],[94.0,0.7],[94.7,0.7],[95.4,0.4],[95.8,2.1],[96.2,2.7],[96.6,1.6],[97.1,0.2],[97.5,0.6],[97.9,1.6],[98.3,1.4],[98.7,0.5],[99.6,0.2],[100.5,0.5],[101.0,1.1],[101.5,0.9],[102.0,0.2],[102.8,0.2],[103.3,6.7],[103.7,7.8],[104.1,1.1],[104.6,0.4],[105.1,1.6],[105.6,2.7],[106.1,4.7],[106.4,5.2],[106.8,3.7],[107.2,1.1],[107.8,0.5],[108.9,0.5],[109.9,0.5],[110.5,0.5],[110.9,3.7],[111.3,5.2],[111.7,6.2],[112.1,5.7],[112.4,6.7]];
const d4MaEobs: Pt[] = [[51.3,9.8],[51.6,10.3],[51.9,7.3],[52.2,9.3],[52.5,6.2],[52.9,5.2],[53.2,0.6],[53.6,7.3],[54.0,14.4],[54.2,13.9],[54.6,6.2],[54.9,0.6],[55.3,0.1],[58.4,0.1],[58.9,0.9],[59.4,13.9],[59.8,28.2],[60.0,33.3],[60.2,28.2],[60.5,12.9],[60.9,0.5],[61.5,0.5],[62.2,0.5],[62.5,8.8],[62.9,10.3],[63.2,9.8],[63.6,4.7],[63.9,5.7],[64.3,13.4],[64.6,14.4],[64.9,7.8],[65.2,1.6],[65.6,0.5],[66.1,0.4],[67.2,0],[68.0,0],[68.2,0.7],[68.8,0.7],[69.2,0.1],[69.5,1.4],[69.9,1.6],[70.3,0.4],[71.2,0.4],[71.7,7.3],[72.1,8.3],[72.4,8.3],[72.7,3.2],[73.0,3.7],[73.3,5.7],[73.6,4.7],[73.9,5.2],[74.3,1.4],[74.7,1.6],[75.0,0],[75.8,0.5],[76.2,10.8],[76.5,21],[76.7,22.5],[77.0,13.9],[77.4,0.5],[78.0,0.1],[81.6,0.1],[82.6,0.2],[83.6,0.4],[84.7,0.4],[85.4,0.7],[86.2,0.2],[88.8,0.1],[89.4,0.5],[89.8,0.9],[90.3,0.5],[90.9,1.1],[91.4,3.7],[91.8,6.7],[92.2,7.8],[92.6,6.7],[92.9,6.7],[93.2,3.7],[93.6,0.9],[94.4,0.1],[95.5,0.1],[95.9,4.7],[96.2,5.7],[96.5,4.2],[96.9,0.6],[97.5,1.1],[97.9,3.7],[98.3,2.7],[98.7,0.5],[99.3,0.2],[100.0,0.9],[100.5,1.6],[100.9,3.2],[101.2,3.2],[101.6,1.6],[102.0,0.1],[102.9,0.1],[103.3,6.7],[103.7,7.8],[104.1,1.6],[104.6,1.1],[105.0,2.1],[105.5,2.1],[106.0,4.7],[106.4,7.3],[106.7,5.7],[107.1,1.6],[107.6,0.4],[109.4,0.4],[110.5,0.5],[110.9,5.7],[111.2,5.7],[111.5,6.2],[111.8,2.1],[112.1,1.6],[112.4,2.1]];
const d4Dwd: Pt[] = [[51.4,0],[51.8,0],[52.4,0],[52.9,0],[53.2,0],[55.0,0],[55.6,0],[56.2,0],[56.8,0],[57.4,0],[58.3,0],[58.8,0],[61.0,0],[61.8,0],[62.3,0],[65.4,0],[66.0,0],[66.7,0],[67.3,0],[67.9,0],[68.6,0],[69.2,0],[70.8,0],[71.4,0],[74.8,0],[75.4,0],[77.8,0],[78.4,0],[79.0,0],[79.6,0],[80.2,0],[80.8,0],[81.4,0],[82.0,0],[82.6,0],[83.2,0],[83.8,0],[84.4,0],[85.0,0],[85.6,0],[86.2,0],[86.8,0],[87.4,0],[88.0,0],[88.6,0],[89.2,0],[90.0,0],[90.6,0],[93.8,0],[94.4,0],[95.4,0],[97.0,0],[97.6,0],[98.6,0],[99.2,0],[99.8,0],[100.4,0],[101.0,0],[101.8,0],[102.4,0],[103.0,0],[104.8,0],[105.4,0],[107.4,0],[108.0,0],[108.6,0],[109.2,0],[109.8,0],[110.4,0],[111.0,0],[112.6,0],
  [51.0,16],[51.2,22],[51.5,8],[52.0,5],[52.6,13],[53.5,15],[53.8,31],[54.0,22],[54.2,17],[54.8,4],[58.0,2],[59.6,19],[59.9,37],[60.1,42],[60.5,24],[61.4,3],[62.7,26],[62.9,18],[63.2,38],[63.6,6],[64.3,28],[64.5,20],[64.7,16],[66.1,5],[69.7,9],[70.0,7],[72.0,17],[72.2,45],[72.4,14],[73.0,6],[73.6,14],[74.1,7],[76.3,47],[76.5,44],[76.7,40],[76.9,34],[77.3,17],[78.5,2],[81.7,2],[83.3,3],[85.8,7],[89.8,3],[91.4,4],[92.0,10],[92.5,14],[92.8,15],[93.4,7],[95.0,2],[96.4,14],[97.2,6],[98.0,9],[98.3,6],[100.2,5],[101.4,7],[103.6,32],[103.8,25],[104.2,8],[105.3,4],[106.2,11],[106.6,8],[107.2,14],[107.8,2],[110.0,1],[111.3,30],[111.5,19],[111.8,9],[112.2,25],[112.5,8],[112.9,10],
  [51.2,2],[51.6,4],[52.2,1],[52.8,2],[55.2,0.5],[58.6,0.5],[59.4,1],[61.2,1],[62.0,2],[62.5,3],[63.8,2],[65.2,1],[68.0,1],[69.0,0.5],[70.5,1],[71.7,2],[72.6,3],[73.3,2],[73.9,4],[74.6,1],[75.8,1],[77.5,1],[82.8,0.5],[84.2,1],[85.2,2],[88.4,0.5],[90.8,1],[91.2,2],[91.9,3],[92.4,5],[93.0,3],[93.6,2],[96.0,1],[96.7,2],[97.7,1],[98.5,2],[100.6,1],[101.1,2],[101.7,1],[103.3,2],[104.0,2],[104.4,1],[105.7,2],[106.0,3],[106.8,4],[107.0,2],[111.5,1],[111.9,2],[112.1,3],[112.4,1],[112.7,2]];
const d4Eobs: Pt[] = [[51.6,0],[52.1,0],[52.7,0],[55.3,0],[55.9,0],[56.5,0],[57.1,0],[57.7,0],[58.5,0],[61.2,0],[61.6,0],[65.7,0],[66.4,0],[67.0,0],[67.6,0],[68.2,0],[68.9,0],[71.0,0],[75.1,0],[78.1,0],[78.7,0],[79.3,0],[79.9,0],[80.5,0],[81.1,0],[81.7,0],[82.3,0],[82.9,0],[83.5,0],[84.1,0],[84.7,0],[85.3,0],[86.5,0],[87.1,0],[87.7,0],[88.3,0],[88.9,0],[89.5,0],[90.8,0],[94.1,0],[94.7,0],[97.3,0],[98.9,0],[99.5,0],[100.1,0],[100.7,0],[101.3,0],[102.1,0],[102.7,0],[105.1,0],[107.7,0],[108.3,0],[108.9,0],[109.5,0],[110.1,0],[110.7,0],
  [51.1,14],[51.3,6],[51.7,10],[52.3,19],[53.0,3],[53.7,32],[53.9,25],[54.1,18],[54.5,11],[56.1,1],[59.3,7],[59.8,36],[60.0,43],[60.3,34],[60.7,12],[62.2,7],[62.8,24],[63.1,38],[63.3,14],[64.2,17],[64.4,25],[64.6,18],[65.0,5],[68.5,8],[69.8,10],[70.3,4],[72.1,46],[72.3,16],[72.7,9],[73.5,17],[73.8,8],[74.4,6],[76.4,45],[76.6,42],[76.8,36],[77.0,30],[77.6,6],[80.6,3],[82.4,2],[84.4,12],[85.9,3],[90.3,4],[91.7,8],[92.2,12],[92.6,18],[93.1,12],[94.0,4],[96.3,15],[96.5,8],[97.9,10],[98.1,7],[99.6,2],[101.3,10],[101.5,6],[103.7,29],[103.9,12],[104.6,5],[105.8,9],[106.4,10],[106.9,6],[107.3,13],[108.5,3],[111.2,4],[111.4,23],[111.6,18],[112.0,8],[112.3,17],[112.8,13],
  [51.4,3],[51.9,2],[52.5,1],[53.1,1],[55.8,0.5],[59.2,1],[60.8,1],[61.9,1],[62.4,2],[63.9,1],[65.3,2],[68.7,1],[69.5,2],[70.6,1],[71.9,3],[72.5,4],[73.2,3],[74.0,2],[74.7,1],[76.1,1],[77.4,2],[83.0,0.5],[84.0,2],[86.0,1],[89.0,0.5],[91.0,2],[91.5,3],[92.0,4],[92.9,5],[93.5,2],[94.3,1],[96.2,2],[96.8,1],[97.5,2],[98.4,1],[100.4,2],[101.0,1],[101.8,3],[103.5,3],[104.1,1],[105.5,1],[106.1,4],[106.5,3],[107.1,1],[111.6,2],[112.0,1],[112.5,3],[112.9,1]];

// ---------- scatter (DWD, E-OBS) ----------
const s1Pts: Pt[] = [[1.9,6.6],[6.8,10],[8.5,12.5],[11,15],[12.3,13.4],[15.4,16.7],[17,19.3],[16.8,22],[18.9,21],[20,14],[21.5,23.5],[22.4,21],[23.7,44.6],[24.6,50.5],[25,27.7],[25.8,32],[26.7,24.3],[27.6,28.6],[29.3,23.5],[30.2,32.8],[31.9,35.3],[32.4,38.7],[33.3,75],[34.5,33.6],[36.2,37],[38,40.4],[38.8,49.7],[40,37.9],[41.4,41.3],[42.3,59],[43.5,78],[44.9,59],[45.8,45.5],[47,50.5],[48.4,54],[49.6,83.5],[49.7,0],[50,57.3],[51,48.9],[51.8,65.8],[52.7,40.4],[53.6,53],[54.4,45.5],[55.3,60.7],[56.2,48.9],[57,69],[58.4,86.6],[58.8,55.6],[59.6,50.5],[60.5,92.8],[60.8,64],[61.4,73.4],[62.2,59],[63.1,38.7],[64,69],[64.8,47.2],[65.3,80],[65.7,89.4],[66.6,100],[66.6,65.8],[67.4,57.3],[68.3,76],[69.2,50.5],[70,86],[70.5,64],[71.2,72.5],[71.8,53],[72.6,93.6],[73.5,45.5],[73.5,81],[74.4,60.7],[75.2,68.3],[76,88.6],[77,54],[77.8,100],[78.2,76],[78.7,61.5],[79.5,82.7],[79.9,94.5],[80.9,70.8],[81.6,59],[82.1,88.6],[83,76],[83.5,100],[84,97],[84.7,57.3],[85.1,72.5],[85.6,86],[86.5,94.5],[87,57.3],[87.3,78.4],[88.2,91.1],[89,56.4],[89.3,100],[89.6,67.5],[89.9,84.4],[90.8,92.8],[91.3,74.2],[92,61.5],[92.5,86.9],[93.4,79.3],[94.3,93.6],[94.8,67.5],[95.5,97.9],[96,89.4],[96.9,84.4],[97.7,91.1],[100,100],[100,96.2],[100,91.1],[100,86],[100,80],[100,74.2],[100,69],[100,66.6],[100,59.8],[100,49.7],[100,0],[0,0],[0,100],[0,85.6],[0,81.8],
  [56,52],[58,62],[60,58],[62,68],[63,55],[65,72],[66,62],[67,70],[68,64],[69,78],[70,68],[71,60],[72,76],[73,66],[74,74],[75,80],[75,62],[76,70],[77,82],[78,66],[79,74],[80,86],[80,64],[81,78],[82,70],[83,84],[84,66],[85,80],[86,74],[87,88],[88,70],[88,82],[89,76],[90,88],[91,80],[92,90],[93,72],[94,84],[95,90],[96,78],[97,86],[98,92],[99,88],[60,50],[58,54],[54,50],[52,56],[57,45],[61,66],[64,58],[66,52],[70,55],[74,56],[78,58],[82,62],[86,62],[90,70],[93,64],[70,82],[72,88],[68,86],[66,80],[64,76],[62,72],[65,90],[76,92],[82,94],[86,96],[90,96],[94,98],
  [45,48],[46,52],[47,44],[48,50],[49,46],[50,52],[51,55],[52,48],[53,58],[54,56],[55,52],[56,60],[57,56],[58,50],[59,62],[60,66],[61,56],[62,64],[63,60],[64,66],[65,58],[66,70],[67,64],[68,60],[69,68],[70,72],[71,66],[72,70],[73,74],[74,68],[75,72],[76,78],[77,72],[78,80],[79,68],[80,78],[81,84],[82,76],[83,80],[84,86],[85,76],[86,84],[87,80],[88,86],[89,90],[90,82],[91,86],[92,82],[93,88],[94,90],[95,84],[96,92],[97,80],[98,84],[99,94],[68,72],[70,76],[72,64],[74,78],[76,66],[78,74],[80,70],[82,82],[84,74],[86,90],[88,76],[90,92],[92,76],[94,80],[96,86],[98,78],[65,68],[63,70],[61,62],[59,58],[57,64],[55,58],[53,52],[51,50],[49,52],[47,48],[45,44],[43,46],[41,42],[39,40],[37,38],[35,36],[33,34],[31,32],[29,30],[27,28],[25,26],[23,24],[21,22],[19,20],[17,18],[14,16],[12,14],[10,12],[8,10],[6,8],[4,6],[30,28],[28,26],[36,34],[40,44],[44,50],[48,58],[52,62],[56,66],[60,72],[64,80],[68,80],[72,84],[76,84],[80,90],[84,92],[88,94],[92,96],[66,56],[70,60],[74,64],[78,70],[82,66],[86,70],[90,76],[94,76]];
const s2Pts: Pt[] = [[1,1.2],[2.3,10],[3,6.3],[4.4,32],[4.4,17.7],[4.9,3.7],[5.3,40],[5.7,17.3],[6.2,23.2],[7,23.7],[7,16.8],[7.3,28.7],[7.6,26],[7.9,11.7],[8.5,13.9],[9,24.9],[9.2,5.4],[9.9,33.3],[9.9,23.2],[10,0],[10.5,8.4],[10.9,30.3],[11.4,17.7],[11.8,7.5],[12.2,29.8],[12.5,3.7],[13.1,21.9],[13.5,12.6],[14,16],[14.2,28.7],[14.8,5.4],[15.3,0],[15.7,24.4],[16,38.8],[16.1,9.6],[16.6,20.2],[17,32.5],[17.4,8.4],[17.9,25.3],[18.3,18.9],[18.7,29.8],[19.2,14.7],[19.4,36.1],[19.6,21.9],[20.1,26.5],[20.5,16.8],[20.9,7.9],[21.2,32],[21.5,23.6],[22,0],[22.2,20.2],[22.4,46.8],[22.7,28.7],[23.1,16],[23.5,24.4],[24,30.3],[24.4,18.1],[24.8,37.1],[25.3,7.1],[25.5,26.1],[25.9,34.2],[26.1,5.8],[26.6,21.9],[27,30.3],[27.4,35.7],[27.9,28.7],[28.3,40.9],[28.5,20.2],[29,3.7],[29.2,17.7],[29.6,34.2],[30,9.2],[30.2,27.8],[30.7,31.6],[31.3,14.3],[31.8,23.6],[32.2,8.4],[32.5,35],[33,0],[33.3,20.2],[34,25.3],[34.4,39.7],[34.8,33.7],[35.2,28.7],[35.7,11.7],[36.1,27],[36.8,24.4],[37.4,41.9],[37.7,16],[38.3,7.5],[38.7,30.3],[39.4,27.8],[39.6,39.2],[40,38.8],[41.1,36.1],[41.3,32],[41.8,17.7],[43.5,43],[45.3,35],[50,16.8],[50,50],[0,0],[0,50],[0,40],[0,28.6],[0,33],[0,25],[0,22],[0,20],[0,18],[0,16],[0,14],[0,12],[0,10],[0,8],[0,6],[0,5],[0,3],
  [18,22],[19,25],[20,19],[20,23],[21,27],[21,17],[22,21],[22,25],[23,19],[23,28],[24,22],[24,26],[25,20],[25,24],[26,28],[26,18],[27,23],[27,26],[28,21],[28,30],[29,25],[29,22],[30,29],[30,24],[31,26],[32,30],[33,28],[17,20],[18,15],[19,18],[16,22],[15,19],[14,12],[13,16],[12,14],[11,11],[10,13],[9,12],[20,28],[21,30],[22,33],[23,31],[24,35],[25,29],[26,32],[27,19],[28,33],[29,31],[30,22],[31,21],[32,24],[34,30],[35,31],[36,33],[37,35],[38,33],[19,22],[18,26],[17,24],[16,18],[15,14],[14,20],[13,10],[12,18],[11,24],[10,20],[8,17],[7,14],[6,10],[24,16],[26,14],[28,12],[22,12],[20,11],[18,9],
  [15,17],[16,26],[17,28],[18,20],[19,30],[20,15],[21,24],[22,18],[23,23],[24,20],[25,27],[26,24],[27,21],[28,26],[29,28],[30,32],[31,28],[32,20],[33,26],[34,22],[35,27],[36,24],[14,22],[13,19],[12,21],[11,15],[10,17],[9,19],[16,14],[17,11],[18,13],[19,10],[20,13],[21,14],[22,16],[23,14],[24,12],[25,16],[26,21],[27,16],[28,17],[29,19],[30,18],[31,17],[32,15],[33,18],[34,17],[20,34],[21,36],[23,34],[25,33],[27,32],[29,34],[31,35],[33,33],[35,35],[37,30],[38,28],[39,31],[40,34],[19,32],[17,30],[15,28],[13,26],[11,28],[9,27],[8,22],[7,20],[6,16],[5,13],[22,22],[24,24],[26,26],[28,24],[30,26],[18,24],[16,20],[20,21],[21,19],[23,21]];
const s3Pts: Pt[] = [[1,3.6],[1.6,1.3],[2.1,5.5],[2.5,4.1],[2.9,10],[3.4,14.7],[3.8,17.5],[4.2,7.3],[4.7,11.9],[5.1,3.1],[5.5,17.7],[6,8.7],[6.4,5.5],[6.8,19.3],[7.3,26.9],[7.5,12.4],[7.9,1.8],[8.1,6.4],[8.6,14.7],[9,24.4],[9.4,9.1],[9.6,21.6],[10.1,0],[10.3,7.8],[10.7,12.4],[11.2,5.9],[11.6,14.7],[12,20.2],[12.5,0],[12.7,23],[13.1,10],[13.6,17],[14,5],[14.5,12.8],[14.8,19.3],[15.3,8.2],[15.7,14.7],[16.2,3.4],[16.4,24.4],[16.8,11.9],[17.2,25.8],[17.7,14.2],[17.9,7.8],[18.3,19.3],[18.8,11.5],[19.2,24.9],[19.7,20.2],[20,16.5],[20.5,23],[20.9,25.8],[21.4,17.5],[21.8,27.2],[22,12.8],[22.3,20.7],[22.6,25.8],[23.1,22.1],[23.3,25.8],[23.7,19.8],[24.2,27.6],[24.9,7.8],[25,23],[25.6,28.6],[25.9,24.9],[26.3,22.1],[26.8,20.2],[27.2,21.2],[27.5,29],[28.1,22.1],[28.5,27.6],[28.9,21.2],[29.4,29],[29.8,32.7],[30.2,30.4],[30.7,35],[31.1,13.5],[31.5,33.2],[32,34.3],[32.4,31.3],[32.8,32.3],[34.6,29.9],[35.4,33.2],[36.3,35],[36.1,39.6],[37.2,33.6],[38.5,35.5],[38.9,37.3],[39.3,38.7],[41.3,45],[41.3,34.6],[41.6,38.3],[46.7,43.3],[47.1,49.8],[48,41.5],[50,48.9],
  [0,20],[0,19],[0,17.5],[0,16],[0,14.5],[0,13],[0,11],[0,9],[0,7],[0,5.5],[0,4],[0,2.5],[0,1],[0,0],[1,0],[2,0],[3,0],[4,0],[5.5,0],[6.5,0],[7.5,0],
  [1,2],[2,3],[2,1],[3,5],[3,2],[4,4],[4,9],[5,6],[5,8],[6,5],[6,10],[7,7],[7,9],[8,8],[8,4],[9,11],[9,6],[10,9],[10,13],[11,10],[12,11],[13,14],[1,6],[1,9],[2,8],[3,11],[4,13],[5,15],[6,13],[7,16],[8,15],[1,4],[2,6],[3,7],[4,2],[5,1],[6,3],[7,2],[8,1],[9,3],[3,3],[4,6],[5,4],[6,8],[7,11],[8,12],[9,14],[10,16],[11,17],[12,15],[14,16],[15,17],[16,14],[17,16],[18,18],[19,17],[20,19],[21,20],[15,12],[13,9],[12,8],[11,7],
  [0.5,1],[1.5,2.5],[2.5,2],[3.5,4],[4.5,5],[5.5,7],[6.5,9],[7.5,10],[8.5,9],[9.5,12],[10.5,11],[11.5,13],[12.5,12],[13.5,15],[14.5,14],[15.5,16],[16.5,18],[17.5,17],[18.5,20],[19.5,18],[20.5,21],[21.5,22],[22.5,23],[23.5,22],[24.5,24],[25.5,25],[26.5,26],[27.5,26],[28.5,29],[1,12],[2,15],[3,16],[4,18],[5,12],[6,15],[7,5],[8,6],[9,8],[10,6],[11,4],[12,6],[13,5],[14,9],[15,10],[16,11],[17,12],[18,14],[19,15],[20,15],[22,17],[24,19],[1.5,0.5],[2.5,1],[3.5,1],[4.5,2],[5.5,2],[6.5,3],[7.5,3],[8.5,2],[0.5,7],[0.5,5],[1,7],[2,11],[3,9],[4,11],[5,10],[6,12],[7,13],[8,11],[9,10],[10,11],[11,13],[12,13],[13,12],[14,13],[15,15],[16,17],[17,19],[18,17],[19,21],[20,17],[21,19],[22,20],[23,19],[24,21],[25,22],[26,23]];
const s4Pts: Pt[] = [[0,22.1],[0,13.8],[0,10],[0,9],[0,8],[0,6.5],[0,5],[0,3.5],[0,2],[0,1],[0,0],[1.8,10.5],[2.9,11],[4,16.1],[4.2,10.1],[4.7,13.3],[5.7,13.8],[6.2,7.8],[6.6,8.7],[7,11.9],[7.5,10.1],[7.9,15.2],[8.3,5.9],[8.8,13.3],[9.2,17.5],[9.6,11],[10.1,13.3],[10.1,0],[10.1,1.8],[10.9,16.5],[11.3,6.8],[12.2,5.9],[12.5,0],[12.7,19.3],[13.5,12.8],[14,17.5],[14.8,13.8],[15.1,7.8],[15.4,18],[15.9,17],[16.2,2.2],[17.1,13.8],[17.4,20.2],[17.7,23],[18.3,20.2],[18.6,24.9],[19.2,30.4],[21.4,19.8],[21.9,19.3],[24.5,3.8],[24.7,24.4],[24.9,28.1],[25,25.3],[25.3,21.2],[30,34.3],[31.6,28.6],[32.4,31.8],[33.9,32.7],[34.3,35.7],[35.2,35],[36.5,36.4],[37.6,38.2],[41.3,42.4],[42.6,42],[45.6,44.7],[46.9,40],
  [0.5,0.5],[1,1],[1,2],[1,3.5],[1.5,0.5],[2,1],[2,2.5],[2,4],[2.5,3],[3,1.5],[3,4.5],[3,6],[3.5,2],[4,3],[4,5],[4.5,6.5],[5,4],[5,7],[5.5,5.5],[6,6.5],[6.5,5],[7,8],[7.5,7],[8,9],[8.5,7.5],[9,8.5],[1,6],[1.5,7],[2,8],[0.5,4],[1,5],[1.5,2],[2.5,1],[3.5,0.5],[4,0.5],[5,0.5],[3,0],[2,0],[1,0],[6,3],[7,4.5],[1.5,9],[2.5,9.5],[3.5,8],
  [0.5,1.5],[0.5,2.5],[0.5,3],[1,2.5],[1.5,1],[1.5,3],[1.5,4],[2,1.5],[2,3],[2,5],[2.5,2],[2.5,4],[2.5,5.5],[3,2.5],[3,3.5],[3,5],[3.5,3],[3.5,4.5],[3.5,6],[4,2],[4,4],[4,7],[4.5,3.5],[4.5,5],[5,3],[5,6],[5,8],[5.5,4.5],[6,5],[6,7.5],[6.5,6],[7,6.5],[7.5,8.5],[8,7],[9,10],[10,10.5],[11,11],[12,12],[13,14],[11,9],[10,8],[9,7],[8,6],[7,5.5],[6,4],[1,7],[1,8],[2,7],[3,8],[0.5,6],[1,9],[2,9],[3,10],[4,9],[0.5,7],[0.5,8]];

// regression line: E-OBS value at DWD = 0 and at DWD = max
const regLines: Pt[] = [[20.7, 86], [5.8, 39.9], [1.5, 45.3], [0.4, 47]];
const r2Values = ['0.45', '0.46', '0.68', '0.86'];

const tsTitles = ['Percentage of drought area in D1 class', 'Percentage of drought area in D2 class', 'Percentage of drought area in D3 class', 'Percentage of drought area in D4 class'];
const scTitles = ['% of drought area in D1 class', '% of drought area in D2 class', '% of drought area in D3 class', '% of drought area in D4 class'];
const legendLabels = ['DWD', 'E-OBS', '12-month MA (DWD)', '12-month MA (E-OBS)'];

type TSProps = {
  left: number; top: number; yMax: number; yTicks: number[];
  title: string; dwd: Pt[]; eobs: Pt[]; maDwd: Pt[]; maEobs: Pt[];
  yTitle?: boolean; xTitle?: boolean; legend?: boolean;
};

const TimePanel = ({ left, top, yMax, yTicks, title, dwd, eobs, maDwd, maEobs, yTitle, xTitle, legend }: TSProps) => {
  const w = 766, h = 382.5;
  const x = d3.scaleLinear().domain([1951, 2012.9]).range([left, left + w]);
  const y = d3.scaleLinear().domain([0, yMax]).range([top + h, top]);
  const line = d3.line<Pt>().x(d => x(1900 + d[0])).y(d => y(d[1]));
  const tl = 20;
  return (
    <g>
      <text x={left + w / 2} y={top - 47} textAnchor="middle" fontSize={34}>{title}</text>
      {dwd.map((d, i) => <circle key={'f' + i} cx={x(1900 + d[0])} cy={y(d[1])} r={3.6} fill={GRAY} />)}
      {eobs.map((d, i) => <circle key={'o' + i} cx={x(1900 + d[0])} cy={y(d[1])} r={3} fill="none" stroke={GRAY} strokeWidth={1.8} />)}
      <path d={line(maDwd) || ''} fill="none" stroke="#ff0000" strokeWidth={6.5} strokeLinejoin="round" />
      <path d={line(maEobs) || ''} fill="none" stroke="#0000ff" strokeWidth={6.5} strokeLinejoin="round" />
      <rect x={left} y={top} width={w} height={h} fill="none" stroke="#000" strokeWidth={2} />
      {yTicks.map(t => (
        <g key={'y' + t}>
          <line x1={left - tl} x2={left} y1={y(t)} y2={y(t)} stroke="#000" strokeWidth={2.2} />
          <line x1={left + w} x2={left + w + tl} y1={y(t)} y2={y(t)} stroke="#000" strokeWidth={2.2} />
          <text x={left - 37} y={y(t) + 9} textAnchor="end" fontSize={25}>{t}</text>
        </g>
      ))}
      {yearTicks.map(t => (
        <g key={'x' + t}>
          <line x1={x(t)} x2={x(t)} y1={top - tl} y2={top} stroke="#000" strokeWidth={2.2} />
          <line x1={x(t)} x2={x(t)} y1={top + h} y2={top + h + tl} stroke="#000" strokeWidth={2.2} />
        </g>
      ))}
      {yearLabels.map(t => (
        <text key={'xl' + t} x={x(t)} y={top + h + 58} textAnchor="middle" fontSize={25}>{t}</text>
      ))}
      {yTitle && (
        <text transform={`translate(${left - 98},${top + h / 2}) rotate(-90)`} textAnchor="middle" fontSize={33}>Area (%)</text>
      )}
      {xTitle && (
        <text x={left + w / 2} y={top + h + 104} textAnchor="middle" fontSize={32}>Year</text>
      )}
      {legend && (
        <g fontSize={26}>
          <circle cx={left + 412} cy={top + 38} r={6} fill="#000" />
          <text x={left + 463} y={top + 47}>{legendLabels[0]}</text>
          <circle cx={left + 412} cy={top + 77} r={5.5} fill="none" stroke="#000" strokeWidth={1.5} />
          <text x={left + 463} y={top + 86}>{legendLabels[1]}</text>
          <line x1={left + 361} x2={left + 439} y1={top + 114} y2={top + 114} stroke="#ff0000" strokeWidth={5} />
          <text x={left + 463} y={top + 123}>{legendLabels[2]}</text>
          <line x1={left + 361} x2={left + 439} y1={top + 152} y2={top + 152} stroke="#0000ff" strokeWidth={5} />
          <text x={left + 463} y={top + 161}>{legendLabels[3]}</text>
        </g>
      )}
    </g>
  );
};

type SCProps = { left: number; top: number; max: number; major: number; minor: number; title: string; pts: Pt[]; reg: Pt; r2: string };

const ScatterPanel = ({ left, top, max, major, minor, title, pts, reg, r2 }: SCProps) => {
  const s = 423;
  const x = d3.scaleLinear().domain([0, max]).range([left, left + s]);
  const y = d3.scaleLinear().domain([0, max]).range([top + s, top]);
  const majors = d3.range(0, max + 0.001, major);
  const minors = d3.range(0, max + 0.001, minor).filter(v => Math.abs(v / major - Math.round(v / major)) > 1e-6);
  const M = 11, m = 6;
  return (
    <g>
      <text x={left + s / 2} y={top - 36} textAnchor="middle" fontSize={28}>{title}</text>
      <line x1={x(0)} y1={y(0)} x2={x(max)} y2={y(max)} stroke="#000" strokeWidth={1.8} />
      {pts.map((d, i) => <circle key={i} cx={x(d[0])} cy={y(d[1])} r={3.5} fill={DOT} />)}
      <line x1={x(0)} y1={y(reg[0])} x2={x(max)} y2={y(reg[1])} stroke="#ff0000" strokeWidth={4} strokeDasharray="9 6" />
      <rect x={left} y={top} width={s} height={s} fill="none" stroke="#000" strokeWidth={1.8} />
      <line x1={left - M} x2={left + s + M} y1={top} y2={top} stroke="#666" strokeWidth={3} />
      <line x1={left - M} x2={left + s + M} y1={top + s} y2={top + s} stroke="#666" strokeWidth={3} />
      {majors.map(t => (
        <g key={'M' + t}>
          <line x1={left - M} x2={left} y1={y(t)} y2={y(t)} stroke="#000" strokeWidth={1.8} />
          <line x1={left + s} x2={left + s + M} y1={y(t)} y2={y(t)} stroke="#000" strokeWidth={1.8} />
          <line x1={x(t)} x2={x(t)} y1={top - M} y2={top} stroke="#000" strokeWidth={1.8} />
          <line x1={x(t)} x2={x(t)} y1={top + s} y2={top + s + M} stroke="#000" strokeWidth={1.8} />
          <text x={left - 26} y={y(t) + 8} textAnchor="end" fontSize={23}>{t}</text>
          <text x={x(t)} y={top + s + 46} textAnchor="middle" fontSize={23}>{t}</text>
        </g>
      ))}
      {minors.map(t => (
        <g key={'m' + t}>
          <line x1={left - m} x2={left} y1={y(t)} y2={y(t)} stroke="#000" strokeWidth={1.5} />
          <line x1={left + s} x2={left + s + m} y1={y(t)} y2={y(t)} stroke="#000" strokeWidth={1.5} />
          <line x1={x(t)} x2={x(t)} y1={top - m} y2={top} stroke="#000" strokeWidth={1.5} />
          <line x1={x(t)} x2={x(t)} y1={top + s} y2={top + s + m} stroke="#000" strokeWidth={1.5} />
        </g>
      ))}
      <line x1={left + 20} x2={left + 65} y1={top + 20} y2={top + 20} stroke="#000" strokeWidth={2} />
      <text x={left + 84} y={top + 29} fontSize={23}>1:1 line</text>
      <line x1={left + 20} x2={left + 65} y1={top + 47} y2={top + 47} stroke="#ff0000" strokeWidth={4} strokeDasharray="9 6" />
      <text x={left + 84} y={top + 55} fontSize={23}>reg. line</text>
      <text x={left + 42} y={top + 82} fontSize={24} fontWeight="bold" fill="#ff0000">
        r<tspan dy={-10} fontSize={14}>2</tspan><tspan dy={10}> = {r2}</tspan>
      </text>
      <text transform={`translate(${left - 80},${top + s / 2}) rotate(-90)`} textAnchor="middle" fontSize={28}>E-OBS</text>
      <text x={left + s / 2} y={top + s + 89} textAnchor="middle" fontSize={29}>DWD</text>
    </g>
  );
};

export default function App() {
  const blue = '#3a78c0';
  return (
    <svg width={3100} height={1213} style={{ position: 'absolute', left: 0, top: 0, background: '#fff' }} fontFamily={FONT}>
      <rect width={3100} height={1213} fill="#fff" />
      {/* cut-off poster heading: only the descenders reach into the picture */}
      <g fill="#0b5a9e" fontSize={100} fontWeight="bold">
        <text x={434} y={-5}>g</text>
        <text x={1338} y={-5}>g</text>
        <text x={1880} y={-5}>y</text>
      </g>
      {/* poster side boxes */}
      <path d="M0,879 H15 V0" fill="none" stroke={blue} strokeWidth={2.5} />
      <path d="M0,909 H15 V1213" fill="none" stroke={blue} strokeWidth={2.5} />
      <line x1={51.5} x2={51.5} y1={0} y2={1213} stroke={blue} strokeWidth={2.5} />

      <TimePanel left={238} top={157} yMax={100} yTicks={ticks100} title={tsTitles[0]} dwd={d1Dwd} eobs={d1Eobs} maDwd={d1MaDwd} maEobs={d1MaEobs} yTitle />
      <TimePanel left={1170} top={157} yMax={50} yTicks={ticks50} title={tsTitles[1]} dwd={d2Dwd} eobs={d2Eobs} maDwd={d2MaDwd} maEobs={d2MaEobs} />
      <TimePanel left={238} top={714.5} yMax={50} yTicks={ticks50} title={tsTitles[2]} dwd={d3Dwd} eobs={d3Eobs} maDwd={d3MaDwd} maEobs={d3MaEobs} yTitle xTitle />
      <TimePanel left={1170} top={714.5} yMax={50} yTicks={ticks50} title={tsTitles[3]} dwd={d4Dwd} eobs={d4Eobs} maDwd={d4MaDwd} maEobs={d4MaEobs} xTitle legend />

      <ScatterPanel left={2097.5} top={114} max={100} major={20} minor={5} title={scTitles[0]} pts={s1Pts} reg={regLines[0]} r2={r2Values[0]} />
      <ScatterPanel left={2657} top={114} max={50} major={10} minor={2} title={scTitles[1]} pts={s2Pts} reg={regLines[1]} r2={r2Values[1]} />
      <ScatterPanel left={2097.5} top={692.3} max={50} major={10} minor={2} title={scTitles[2]} pts={s3Pts} reg={regLines[2]} r2={r2Values[2]} />
      <ScatterPanel left={2657} top={692.3} max={50} major={10} minor={2} title={scTitles[3]} pts={s4Pts} reg={regLines[3]} r2={r2Values[3]} />
    </svg>
  );
}
